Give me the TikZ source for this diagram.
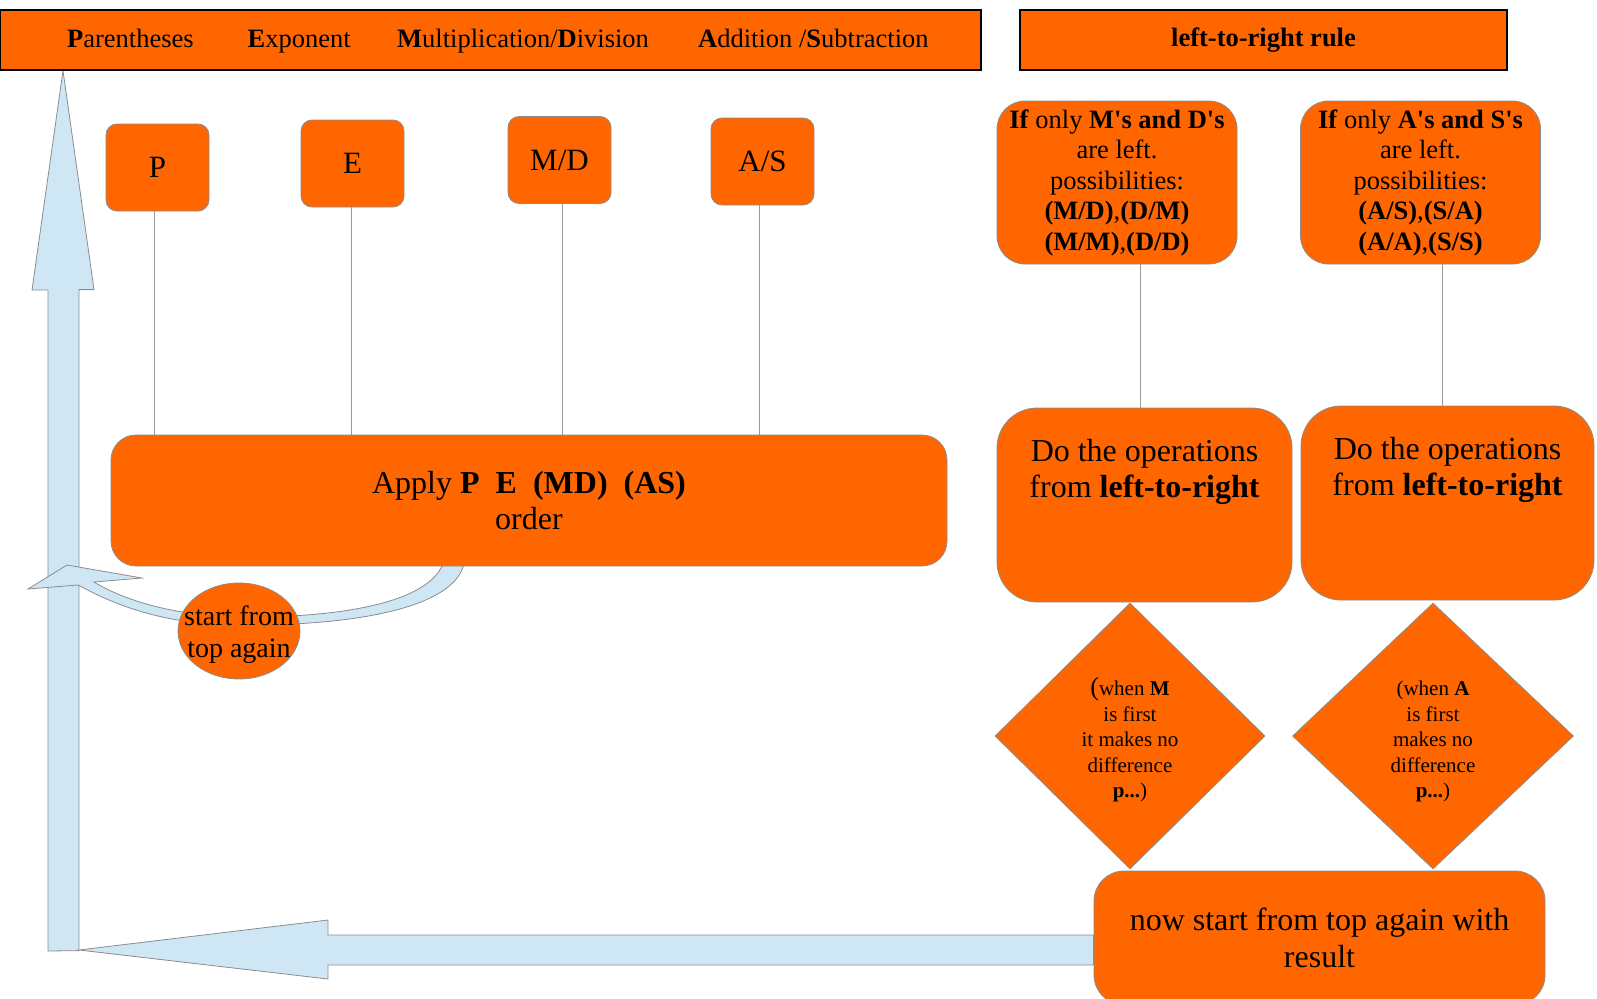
\documentclass[tikz,border=0pt]{standalone}
\usepackage{fontspec}
\setmainfont{Liberation Serif}
\usetikzlibrary{shapes.geometric,backgrounds}
\definecolor{ooOrange}{HTML}{FF6600}
\definecolor{ooBlue}{HTML}{CFE7F5}
\newcommand\txtHead{\fontsize{26.5pt}{30.5pt}\selectfont}
\newcommand\txtKey{\fontsize{31pt}{36pt}\selectfont}
\newcommand\txtBig{\fontsize{32pt}{36.5pt}\selectfont}
\newcommand\txtEll{\fontsize{28pt}{32pt}\selectfont}
\newcommand\txtDiam{\fontsize{21pt}{25.5pt}\selectfont}

\begin{document}
\begin{tikzpicture}[x=1pt,y=-1pt,
  bar/.style={draw=black,fill=ooOrange,line width=1.2pt,minimum height=60pt,inner sep=0pt},
  card/.style={draw=gray!90,fill=ooOrange,rounded corners=#1,align=center,inner sep=0pt,line width=0.8pt},
  rhomb/.style={diamond,draw=gray!90,fill=ooOrange,minimum height=266pt,inner sep=0pt,align=center,font=\txtDiam,line width=0.8pt},
  link/.style={draw=gray!80,line width=0.9pt},
  flow/.style={fill=ooBlue,draw=gray!90,line width=0.8pt,line join=miter}]
\useasboundingbox (0,0) rectangle (1597,998);
\node[bar,minimum width=981pt] (order) at (490.5,40) {};
\foreach \x/\t [count=\i] in {67/{\textbf{P}arentheses},247.5/{\textbf{E}xponent},
  397/{\textbf{M}ultiplication/\textbf{D}ivision},698/{\textbf{A}ddition /\textbf{S}ubtraction}}
  \node[anchor=base west,inner sep=0pt,font=\txtHead] (hd\i) at (\x,48) {\t};
\node[bar,minimum width=487pt,font=\txtHead] (rule) at (1263.5,40) {\textbf{left-to-right rule}};

\foreach \n/\x/\y/\t in {p/157.5/167.5/P,e/352.5/163.5/E,md/559.5/160/{M/D},as/762.5/161.5/{A/S}}
  \node[card=11pt,minimum width=103pt,minimum height=87pt,font=\txtKey] (\n) at (\x,\y) {\t};
\node[card=25pt,minimum width=836pt,minimum height=131pt,font=\txtBig] (apply) at (529,500.5)
  {Apply \textbf{P\ \ E\ \ (MD)\ \ (AS)}\\order};
\foreach \n/\d in {p/-3.5,e/-1.5,md/2.5,as/-3.5}
  \draw[link] ([xshift=\d pt]\n.south) -- ([xshift=\d pt]\n.south |- apply.north);
\node[ellipse,draw=gray!90,fill=ooOrange,minimum width=122pt,minimum height=96pt,inner xsep=-13pt,
  inner ysep=0pt,align=center,font=\txtEll,line width=0.8pt] (again) at (239,631)
  {\raisebox{-4pt}[\height][\depth]{start from}\\\raisebox{-4pt}[\height][\depth]{top again}};

\node[card=28pt,minimum width=240pt,minimum height=163pt,font=\txtHead] (mdrule) at (1117,182.5)
  {\textbf{If} only \textbf{M\textquotesingle s and D\textquotesingle s}\\are left.\\possibilities:\\
   \textbf{(M/D)},\textbf{(D/M)}\\\textbf{(M/M)},\textbf{(D/D)}};
\node[card=28pt,minimum width=240pt,minimum height=163pt,font=\txtHead] (asrule) at (1420.5,182.5)
  {\textbf{If} only \textbf{A\textquotesingle s and S\textquotesingle s}\\are left.\\possibilities:\\
   \textbf{(A/S)},\textbf{(S/A)}\\\textbf{(A/A)},\textbf{(S/S)}};
\node[card=40pt,minimum width=295pt,minimum height=194pt,font=\txtBig] (ltr1) at (1144.5,505)
  {Do the operations\\from \textbf{left-to-right}\\[36.5pt]\mbox{}};
\node[card=40pt,minimum width=293pt,minimum height=194pt,font=\txtBig] (ltr2) at (1447.5,503)
  {Do the operations\\from \textbf{left-to-right}\\[36.5pt]\mbox{}};
\draw[link] ([xshift=-4.5pt]mdrule.south -| ltr1.north) -- ([xshift=-4.5pt]ltr1.north);
\draw[link] ([xshift=-5pt]asrule.south -| ltr2.north) -- ([xshift=-5pt]ltr2.north);
\node[rhomb,minimum width=270pt] (mfirst) at (1130,736)
  {\mbox{}\\{\fontsize{26pt}{25.5pt}\selectfont(}when \textbf{M}\\is first\\it makes no\\difference\\\textbf{p...})};
\node[rhomb,minimum width=281pt] (afirst) at (1433,736)
  {\mbox{}\\(when \textbf{A}\\is first\\makes no\\difference\\\textbf{p...})};
\node[card=30pt,minimum width=451pt,minimum height=134pt,font=\txtBig] (restart) at (1319.5,938)
  {now start from top again with\\result};

\begin{scope}[on background layer]
\coordinate (corner) at (63,951);
\coordinate (top) at (order.south -| corner);
\draw[flow] (corner) ++(-15,0) -- ++(0,-661) -- ++(-16,0) -- (top) -- ++(31,219) -- ++(-15,0) -- ++(0,661) -- cycle;
\draw[flow] (restart.west |- 0,935) -- (328,935) -- (328,920) -- (79,950) -- (328,979) -- (328,965)
  -- (restart.west |- 0,965) -- cycle;
\draw[flow] (445,555) .. controls (440,605) and (330,618) .. (240,617)
  .. controls (170,616) and (120,598) .. (94,582) -- (142,578) -- (67,565) -- (28,589) -- (78,585)
  .. controls (120,608) and (170,625) .. (240,625) .. controls (345,626) and (466,610) .. (465,555) -- cycle;
\end{scope}
\end{tikzpicture}
\end{document}
